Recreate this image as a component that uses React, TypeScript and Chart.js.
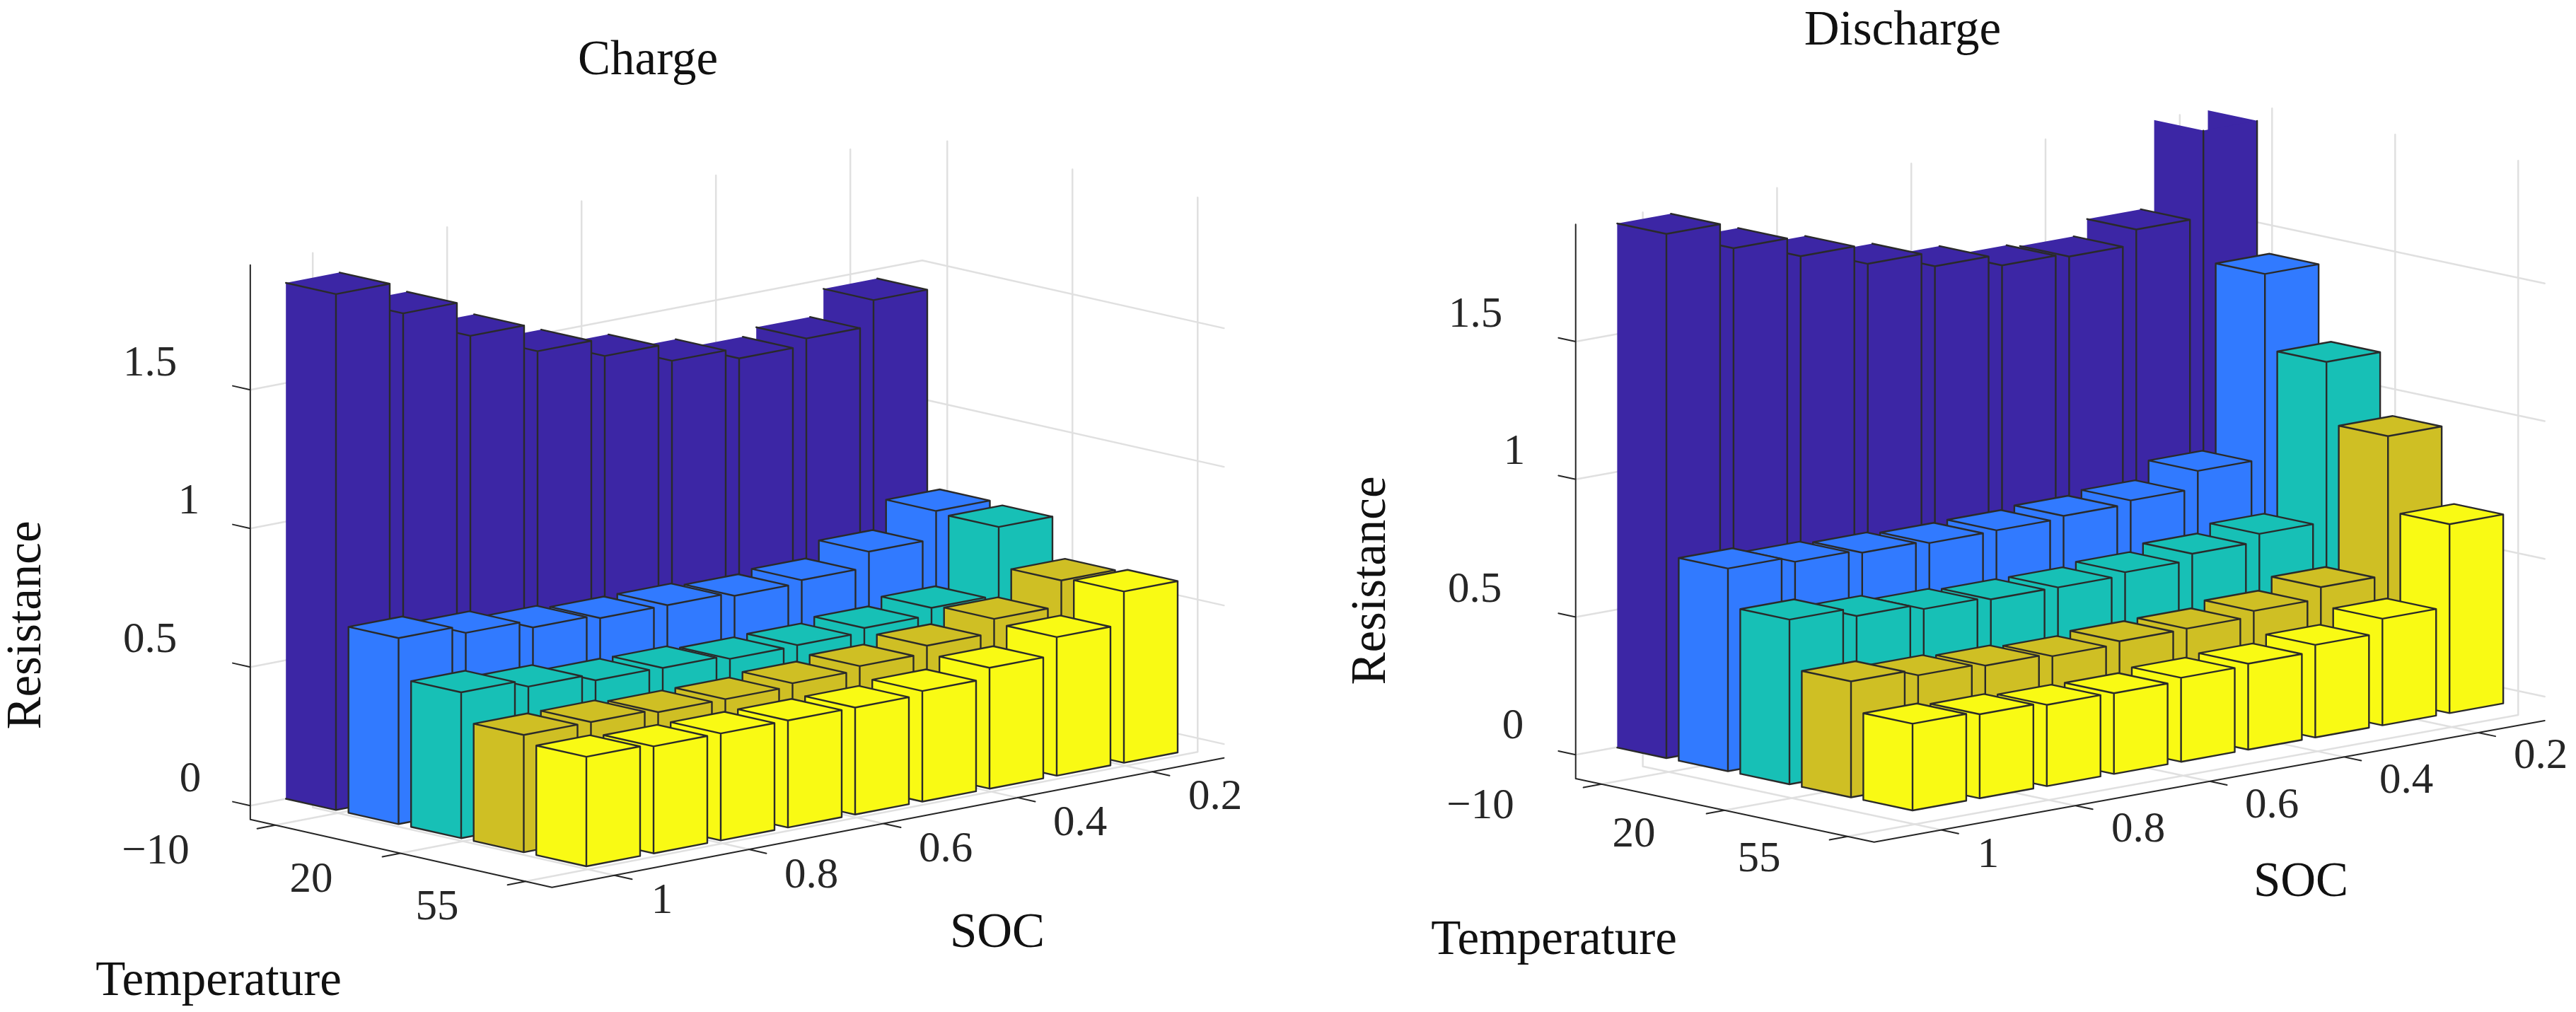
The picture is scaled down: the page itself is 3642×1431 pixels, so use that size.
import React, { useEffect, useRef } from "react";
import { Chart, registerables } from "chart.js";

Chart.register(...registerables);

// ---------- data: resistance by temperature row (front = last) and SOC ----------
const socLevels = [1, 0.9, 0.8, 0.7, 0.6, 0.5, 0.4, 0.3, 0.2];
const socTickLabels = ["1", "0.8", "0.6", "0.4", "0.2"];
const socTickIndex = [0, 2, 4, 6, 8];
const tempTickLabels = ["\u221210", "20", "55"];
const tempTickIndex = [1, 3, 5];
const resistanceTicks = [0, 0.5, 1, 1.5];
const resistanceTickLabels = ["0", "0.5", "1", "1.5"];

const chargeRow1 = [1.861, 1.745, 1.617, 1.515, 1.451, 1.387, 1.349, 1.374, 1.466];
const chargeRow2 = [0.671, 0.643, 0.616, 0.603, 0.603, 0.59, 0.6, 0.656, 0.756];
const chargeRow3 = [0.526, 0.5, 0.476, 0.474, 0.46, 0.463, 0.478, 0.504, 0.749];
const chargeRow4 = [0.423, 0.423, 0.412, 0.412, 0.423, 0.438, 0.465, 0.515, 0.607];
const chargeRow5 = [0.395, 0.386, 0.386, 0.386, 0.386, 0.399, 0.436, 0.5, 0.618];

const dischargeRow1 = [1.903, 1.807, 1.734, 1.662, 1.609, 1.568, 1.556, 1.61, 2.3];
const dischargeRow2 = [0.736, 0.716, 0.705, 0.696, 0.698, 0.706, 0.718, 0.781, 1.452];
const dischargeRow3 = [0.598, 0.567, 0.548, 0.539, 0.538, 0.549, 0.572, 0.6, 1.18];
const dischargeRow4 = [0.421, 0.399, 0.39, 0.38, 0.39, 0.392, 0.412, 0.454, 0.958];
const dischargeRow5 = [0.315, 0.305, 0.295, 0.293, 0.305, 0.312, 0.336, 0.387, 0.686];

const chargeRows = [chargeRow1, chargeRow2, chargeRow3, chargeRow4, chargeRow5];
const dischargeRows = [dischargeRow1, dischargeRow2, dischargeRow3, dischargeRow4, dischargeRow5];

// ---------- styles ----------
const rowColors = ["#3C26A5", "#317AFF", "#17C0B6", "#CFBF24", "#F9FA14"];
const EDGE = "#2a2a2a";
const AXIS = "#262626";
const GRID = "#e0e0e0";
const SERIF = '"Liberation Serif"';
const WIDTH = 3642;
const HEIGHT = 1431;
const BAR = 0.4;
const LABEL_SIZE = 69;
const TICK_SIZE = 61;

// ---------- the two panels: view projection and text placement ----------
const chargePanel = {
  rows: chargeRows,
  xRange: [0, 1821],
  fx: 829, fy: 1225, ux: 88.5, uy: 19.9, sx: 95, sy: 18.3, kz: 392,
  uLim: [0.6, 5.42], sLim: [-0.93, 9.07], zLim: [-0.05, 1.95],
  title: { text: "Charge", x: 916, y: 87 },
  axisLabels: [
    { text: "Temperature", x: 309, y: 1389 },
    { text: "SOC", x: 1410, y: 1321 },
    { text: "Resistance", x: 39, y: 884, rotate: true },
  ],
  zLabelPos: [[269, 1103], [212, 906], [267, 710], [212, 515]],
  tempLabelPos: [[220, 1205], [440, 1245], [618, 1284]],
  socLabelPos: [[936, 1275], [1147, 1239], [1337, 1202], [1527, 1165], [1718, 1128]],
};

const dischargePanel = {
  rows: dischargeRows,
  xRange: [1821, 3642],
  fx: 2704, fy: 1146, ux: 87, uy: 18.5, sx: 94.9, sy: 17.2, kz: 389.5,
  uLim: [0.58, 5.43], sLim: [-1, 8.99], zLim: [-0.087, 1.925],
  title: { text: "Discharge", x: 2690, y: 45 },
  axisLabels: [
    { text: "Temperature", x: 2197, y: 1331 },
    { text: "SOC", x: 3253, y: 1249 },
    { text: "Resistance", x: 1940, y: 821, rotate: true },
  ],
  zLabelPos: [[2139, 1028], [2085, 835], [2141, 640], [2086, 446]],
  tempLabelPos: [[2093, 1141], [2310, 1181], [2487, 1216]],
  socLabelPos: [[2811, 1210], [3023, 1174], [3212, 1140], [3402, 1105], [3592, 1070]],
};

type Panel = typeof chargePanel;

const project = (p: Panel, u: number, s: number, z: number) => ({
  x: p.fx + (u - 5.4) * p.ux + (s + 0.4) * p.sx,
  y: p.fy + (u - 5.4) * p.uy - (s + 0.4) * p.sy - p.kz * z,
});

const GAP = { x: null, y: null };

function buildDatasets(p: Panel) {
  const sets: any[] = [];
  const polyline = (pts: any[], color: string, width: number, label: string) =>
    sets.push({
      label,
      data: pts,
      borderColor: color,
      borderWidth: width,
      pointRadius: 0,
      fill: false,
      borderCapStyle: "round",
      borderJoinStyle: "round",
      spanGaps: false,
    });
  const face = (pts: any[], color: string, label: string) =>
    sets.push({
      label,
      data: pts,
      backgroundColor: color,
      borderWidth: 0,
      pointRadius: 0,
      fill: "shape",
    });

  const [uMin, uMax] = p.uLim;
  const [sMin, sMax] = p.sLim;
  const [zMin, zMax] = p.zLim;
  const at = (u: number, s: number, z: number) => project(p, u, s, z);

  // walls and floor grid
  const grid: any[] = [];
  resistanceTicks.forEach((z) => {
    grid.push(at(uMin, sMin, z), at(uMin, sMax, z), at(uMax, sMax, z), GAP);
  });
  socTickIndex.forEach((s) => {
    grid.push(at(uMax, s, zMin), at(uMin, s, zMin), at(uMin, s, zMax), GAP);
  });
  tempTickIndex.forEach((u) => {
    grid.push(at(u, sMin, zMin), at(u, sMax, zMin), at(u, sMax, zMax), GAP);
  });
  polyline(grid, GRID, 2.5, "grid");

  // axes and tick marks
  const axes: any[] = [
    at(uMin, sMin, zMax), at(uMin, sMin, zMin), at(uMax, sMin, zMin), at(uMax, sMax, zMin), GAP,
  ];
  resistanceTicks.forEach((z) => axes.push(at(uMin, sMin, z), at(uMin - 0.28, sMin, z), GAP));
  tempTickIndex.forEach((u) => axes.push(at(u, sMin, zMin), at(u, sMin - 0.27, zMin), GAP));
  socTickIndex.forEach((s) => axes.push(at(uMax, s, zMin), at(uMax + 0.28, s, zMin), GAP));
  polyline(axes, AXIS, 2, "axes");

  // bars, back to front
  p.rows.forEach((row, r) => {
    const u = r + 1;
    const color = rowColors[r];
    for (let s = socLevels.length - 1; s >= 0; s--) {
      const value = row[s];
      const clipped = value > zMax;
      const h = Math.min(value, zMax);
      const onWall = u - BAR <= uMin + 0.05;
      const L = [u - BAR, s - BAR];
      const F = [u + BAR, s - BAR];
      const R = [u + BAR, s + BAR];
      const B = [u - BAR, s + BAR];
      const t = (c: number[]) => at(c[0], c[1], h);
      const b = (c: number[]) => at(c[0], c[1], 0);
      const name = `row ${u} SOC ${socLevels[s]}`;
      if (clipped) face([t(B), t(R), b(R), b(B)], color, name + " back");
      face([t(L), t(F), b(F), b(L)], color, name + " left");
      face([t(F), t(R), b(R), b(F)], color, name + " right");
      if (!clipped) face([t(L), t(F), t(R), t(B)], color, name + " top");
      const edges: any[] = [
        t(F), b(F), GAP,
        t(R), b(R), GAP,
        b(L), b(F), b(R), GAP,
      ];
      if (!onWall) edges.push(t(L), b(L), GAP);
      if (!clipped) {
        edges.push(t(L), t(F), t(R), t(B));
        if (!onWall) edges.push(t(L));
      }
      polyline(edges, EDGE, 2.4, name + " edges");
    }
  });

  const n = sets.length;
  sets.forEach((d, i) => (d.order = n - i));
  return sets;
}

function textPlugin(p: Panel) {
  return {
    id: "panelText",
    afterDraw(chart: any) {
      const { ctx, scales } = chart;
      const put = (text: string, x: number, y: number, size: number, color: string, rotate = false) => {
        ctx.save();
        ctx.font = `${size}px ${SERIF}`;
        ctx.fillStyle = color;
        ctx.textAlign = "center";
        ctx.textBaseline = "middle";
        ctx.translate(scales.x.getPixelForValue(x), scales.y.getPixelForValue(y));
        if (rotate) ctx.rotate(-Math.PI / 2);
        ctx.fillText(text, 0, 0);
        ctx.restore();
      };
      put(p.title.text, p.title.x, p.title.y, LABEL_SIZE, "#111111");
      p.axisLabels.forEach((l: any) => put(l.text, l.x, l.y, LABEL_SIZE, "#111111", l.rotate));
      resistanceTickLabels.forEach((t, i) => put(t, p.zLabelPos[i][0], p.zLabelPos[i][1], TICK_SIZE, AXIS));
      tempTickLabels.forEach((t, i) => put(t, p.tempLabelPos[i][0], p.tempLabelPos[i][1], TICK_SIZE, AXIS));
      socTickLabels.forEach((t, i) => put(t, p.socLabelPos[i][0], p.socLabelPos[i][1], TICK_SIZE, AXIS));
    },
  };
}

function PanelChart({ panel }: { panel: Panel }) {
  const ref = useRef<HTMLCanvasElement | null>(null);
  useEffect(() => {
    if (!ref.current) return;
    const chart = new Chart(ref.current, {
      type: "line",
      data: { datasets: buildDatasets(panel) },
      plugins: [textPlugin(panel)],
      options: {
        animation: false,
        responsive: false,
        devicePixelRatio: 1,
        layout: { padding: 0 },
        plugins: { legend: { display: false }, tooltip: { enabled: false }, title: { display: false } },
        scales: {
          x: { type: "linear", display: false, min: panel.xRange[0], max: panel.xRange[1] },
          y: { type: "linear", display: false, min: 0, max: HEIGHT, reverse: true },
        },
      },
    } as any);
    return () => chart.destroy();
  }, [panel]);
  const w = panel.xRange[1] - panel.xRange[0];
  return (
    <canvas
      ref={ref}
      width={w}
      height={HEIGHT}
      style={{ position: "absolute", left: panel.xRange[0], top: 0, width: w, height: HEIGHT, display: "block" }}
    />
  );
}

export default function App() {
  return (
    <div style={{ position: "fixed", left: 0, top: 0, width: WIDTH, height: HEIGHT, background: "#fff", overflow: "hidden" }}>
      <PanelChart panel={chargePanel} />
      <PanelChart panel={dischargePanel} />
    </div>
  );
}
